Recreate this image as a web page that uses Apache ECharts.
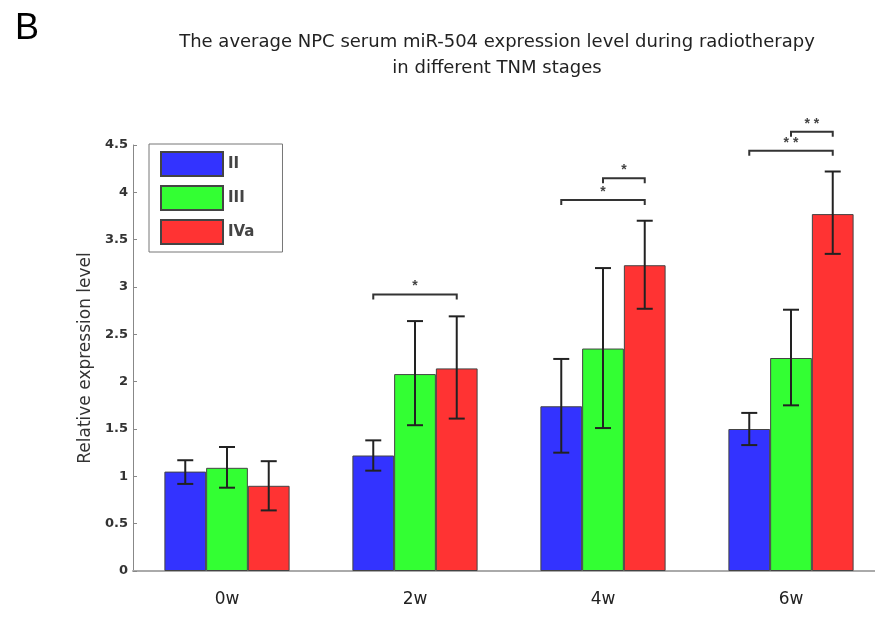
<!DOCTYPE html>
<html>
<head>
<meta charset="utf-8">
<script src="https://cdn.jsdelivr.net/npm/echarts@6/dist/echarts.min.js"></script>
<style>
  html, body { margin: 0; padding: 0; background: #fff; }
  #chart { width: 875px; height: 618px; }
</style>
</head>
<body>
<div id="chart"></div>
<script>
// weeks of radiotherapy
const weeks = ["0w", "2w", "4w", "6w"];
const stages = ["II", "III", "IVa"];

// mean relative expression per stage
const meanII = [1.05, 1.22, 1.74, 1.50];
const meanIII = [1.09, 2.08, 2.35, 2.25];
const meanIVa = [0.90, 2.14, 3.23, 3.77];

// error bar ends [low, high]
const errII = [[0.92, 1.17], [1.06, 1.38], [1.25, 2.24], [1.33, 1.67]];
const errIII = [[0.88, 1.31], [1.54, 2.64], [1.51, 3.20], [1.75, 2.76]];
const errIVa = [[0.64, 1.16], [1.61, 2.69], [2.77, 3.70], [3.35, 4.22]];

// significance brackets: [week index, from stage, to stage, level, mark]
const brackets = [
  [1, 0, 2, 2.92, "*"],
  [2, 0, 2, 3.92, "*"],
  [2, 1, 2, 4.15, "*"],
  [3, 0, 2, 4.44, "* *"],
  [3, 1, 2, 4.64, "* *"]
];

const colors = ["#3333ff", "#33ff33", "#ff3333"];
const BAR_FRAC = 0.222;
const FONT = "DejaVu Sans";

const chart = echarts.init(document.getElementById("chart"));

const means = [meanII, meanIII, meanIVa];
const errs = [errII, errIII, errIVa];

const errData = [];
errs.forEach((list, s) => {
  list.forEach((e, i) => errData.push([i, s, e[0], e[1]]));
});

const barSeries = stages.map((name, s) => ({
  name: name,
  type: "bar",
  data: means[s],
  barWidth: (BAR_FRAC * 100) + "%",
  barGap: "0%",
  itemStyle: { color: colors[s], borderColor: "#444", borderWidth: 1 },
  z: 2
}));

const option = {
  animation: false,
  title: [
    {
      text: "B",
      left: 10,
      top: 6,
      textStyle: { fontFamily: "Liberation Sans", fontSize: 36, fontWeight: "normal", color: "#000" }
    },
    {
      text: "The average NPC serum miR-504 expression level during radiotherapy\nin different TNM stages",
      left: 492,
      top: 24,
      textAlign: "center",
      textStyle: { fontFamily: FONT, fontSize: 18, fontWeight: "normal", color: "#222", lineHeight: 26 }
    }
  ],
  legend: {
    data: stages,
    orient: "vertical",
    left: 149,
    top: 144,
    padding: [7, 28, 7, 11],
    itemWidth: 62,
    itemHeight: 24,
    itemGap: 8,
    icon: "rect",
    borderColor: "#777",
    borderWidth: 1,
    textStyle: { fontFamily: FONT, fontSize: 15, fontWeight: "bold", color: "#444" }
  },
  grid: { left: 133, width: 752, top: 145, bottom: 47, outerBoundsMode: "none" },
  xAxis: {
    type: "category",
    data: weeks,
    axisLine: { lineStyle: { color: "#aaa", width: 2 } },
    axisTick: { show: false },
    axisLabel: { fontFamily: FONT, fontSize: 17, color: "#222", margin: 20 }
  },
  yAxis: {
    type: "value",
    min: 0,
    max: 4.5,
    interval: 0.5,
    name: "Relative expression level",
    nameLocation: "middle",
    nameGap: 38,
    nameTextStyle: { fontFamily: FONT, fontSize: 17, color: "#333" },
    axisLine: { show: true, lineStyle: { color: "#888", width: 1 } },
    axisTick: { show: true, inside: true, length: 4, lineStyle: { color: "#888" } },
    splitLine: { show: false },
    axisLabel: { fontFamily: FONT, fontSize: 13, fontWeight: "bold", color: "#333", margin: 5 }
  },
  series: barSeries.concat([
    {
      name: "err",
      type: "custom",
      data: errData,
      encode: { x: 0, y: [2, 3] },
      z: 5,
      renderItem: function (params, api) {
        const cat = api.value(0);
        const s = api.value(1);
        const band = api.size([1, 0])[0];
        const bw = band * BAR_FRAC;
        const cx = api.coord([cat, 0])[0] + (s - 1) * bw;
        const yl = api.coord([cat, api.value(2)])[1];
        const yh = api.coord([cat, api.value(3)])[1];
        const cap = 8;
        const st = { stroke: "#222", lineWidth: 2 };
        return {
          type: "group",
          children: [
            { type: "line", shape: { x1: cx, y1: yl, x2: cx, y2: yh }, style: st },
            { type: "line", shape: { x1: cx - cap, y1: yh, x2: cx + cap, y2: yh }, style: st },
            { type: "line", shape: { x1: cx - cap, y1: yl, x2: cx + cap, y2: yl }, style: st }
          ]
        };
      }
    },
    {
      name: "sig",
      type: "custom",
      data: brackets,
      encode: { x: 0, y: 3 },
      clip: false,
      z: 5,
      renderItem: function (params, api) {
        const cat = api.value(0);
        const a = api.value(1);
        const b = api.value(2);
        const band = api.size([1, 0])[0];
        const bw = band * BAR_FRAC;
        const c0 = api.coord([cat, api.value(3)]);
        const x1 = c0[0] + (a - 1) * bw;
        const x2 = c0[0] + (b - 1) * bw;
        const y = c0[1];
        const st = { stroke: "#333", lineWidth: 2 };
        return {
          type: "group",
          children: [
            { type: "polyline", shape: { points: [[x1, y + 5], [x1, y], [x2, y], [x2, y + 5]] }, style: Object.assign({ fill: null }, st) },
            {
              type: "text",
              style: {
                x: (x1 + x2) / 2,
                y: y - 1,
                text: brackets[params.dataIndex][4],
                align: "center",
                verticalAlign: "bottom",
                fontFamily: "Liberation Sans",
                fontSize: 14,
                fontWeight: "bold",
                fill: "#444"
              }
            }
          ]
        };
      }
    }
  ])
};

chart.setOption(option);
</script>
</body>
</html>
